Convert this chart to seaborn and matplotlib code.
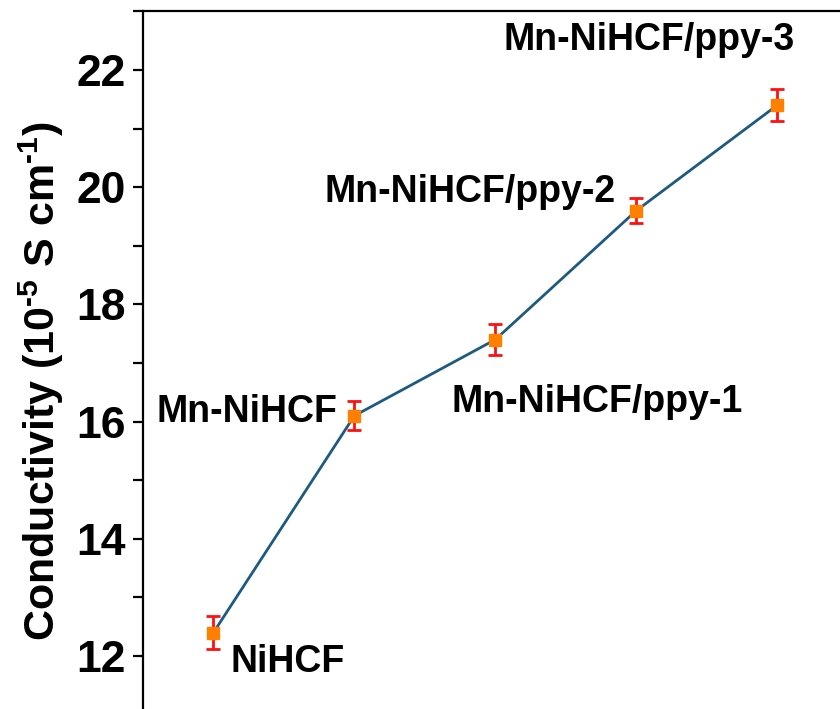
import matplotlib
matplotlib.use("Agg")
import matplotlib.pyplot as plt
from matplotlib.ticker import MultipleLocator
import seaborn as sns
import pandas as pd

# Samples, conductivity (10^-5 S/cm) and their standard deviations
samples = ["NiHCF", "Mn-NiHCF", "Mn-NiHCF/ppy-1", "Mn-NiHCF/ppy-2", "Mn-NiHCF/ppy-3"]
positions = [1, 2, 3, 4, 5]
conductivity = [12.4, 16.1, 17.4, 19.6, 21.4]
errors = [0.28, 0.25, 0.26, 0.21, 0.27]

# Label anchors (data coordinates) and alignment for each sample name
label_x = [1.12, 1.88, 2.69, 1.79, 3.06]
label_y = [11.73, 15.99, 16.16, 19.75, 22.34]
label_ha = ["left", "right", "left", "left", "left"]

df = pd.DataFrame({"pos": positions, "cond": conductivity, "err": errors})

sns.set_theme(style="ticks")
plt.rcParams["font.family"] = ["Liberation Sans", "DejaVu Sans"]
plt.rcParams["font.weight"] = "bold"
plt.rcParams["mathtext.fontset"] = "custom"
plt.rcParams["mathtext.rm"] = "Liberation Sans:bold"
plt.rcParams["mathtext.default"] = "rm"

fig = plt.figure(figsize=(8.40, 7.09), dpi=100)
ax = fig.add_axes([0.1702, -0.0079, 0.839, 0.9918])

line_color = "#1d5a82"
sns.lineplot(data=df, x="pos", y="cond", color=line_color, linewidth=2.0,
             ax=ax, zorder=2)
ax.errorbar(df["pos"], df["cond"], yerr=df["err"], fmt="none",
            ecolor="#ff1010", elinewidth=2.0, capsize=5, capthick=2.0,
            zorder=3)
ax.plot(df["pos"], df["cond"], linestyle="none", marker="s", markersize=9,
        markerfacecolor="#ff8000", markeredgecolor="#ff8000", zorder=4)

for name, tx, ty, ha in zip(samples, label_x, label_y, label_ha):
    ax.text(tx, ty, name, ha=ha, va="baseline", fontsize=27,
            fontweight="bold", color="black", zorder=5)

ax.set_xlim(0.5, 5.5)
ax.set_ylim(11, 23)
ax.yaxis.set_major_locator(MultipleLocator(2))
ax.yaxis.set_minor_locator(MultipleLocator(1))
ax.set_xticks([])
ax.set_xlabel("")

ax.tick_params(axis="y", which="both", direction="out", length=7.5,
               width=1.6, labelsize=32, pad=5, colors="black")
for lab in ax.get_yticklabels():
    lab.set_fontweight("bold")

for sp in ax.spines.values():
    sp.set_linewidth(1.6)
    sp.set_color("black")

ax.set_ylabel(r"Conductivity (10$^{\text{-5}}$ S cm$^{\text{-1}}$)",
              fontsize=31, fontweight="bold", color="black", labelpad=7)
ax.yaxis.label.set_y(0.475)

fig.savefig("out.png", dpi=100)
